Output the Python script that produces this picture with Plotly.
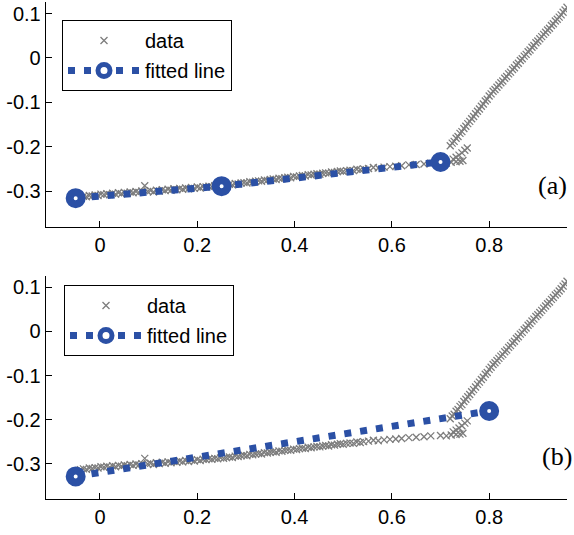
import plotly.graph_objects as go

# ---- data ----
flat_x = [-0.040, -0.034, -0.028, -0.022, -0.016, -0.010, -0.004, 0.002, 0.008, 0.014,
          0.020, 0.026, 0.032, 0.038, 0.044, 0.050, 0.056, 0.062, 0.068, 0.074,
          0.080, 0.086, 0.092, 0.098, 0.104, 0.110, 0.116, 0.122, 0.128, 0.134,
          0.140, 0.146, 0.152, 0.158, 0.164, 0.170, 0.176, 0.182, 0.188, 0.194,
          0.200, 0.206, 0.212, 0.218, 0.224, 0.230, 0.236, 0.242, 0.248, 0.254,
          0.260, 0.266, 0.272, 0.278, 0.284, 0.290, 0.296, 0.302, 0.308, 0.314,
          0.320, 0.326, 0.332, 0.338, 0.344, 0.350, 0.356, 0.362, 0.368, 0.374,
          0.380, 0.386, 0.392, 0.398, 0.404, 0.410, 0.416, 0.422, 0.428, 0.434,
          0.440, 0.446, 0.452, 0.458, 0.464, 0.470, 0.476, 0.482, 0.488, 0.494,
          0.500, 0.507, 0.514, 0.521, 0.528, 0.535, 0.542, 0.552, 0.562, 0.572,
          0.584, 0.596, 0.608, 0.620, 0.635, 0.650, 0.666, 0.680, 0.700, 0.712,
          0.722, 0.732, 0.740, 0.746]
flat_y = [-0.314, -0.312, -0.313, -0.310, -0.311, -0.309, -0.310, -0.307, -0.308, -0.306,
          -0.308, -0.305, -0.307, -0.304, -0.306, -0.303, -0.305, -0.302, -0.304, -0.301,
          -0.303, -0.300, -0.288, -0.301, -0.299, -0.302, -0.298, -0.300, -0.297, -0.299,
          -0.296, -0.298, -0.295, -0.297, -0.294, -0.296, -0.293, -0.295, -0.292, -0.294,
          -0.291, -0.293, -0.290, -0.291, -0.289, -0.290, -0.288, -0.289, -0.287, -0.288,
          -0.286, -0.285, -0.286, -0.283, -0.284, -0.282, -0.281, -0.282, -0.279, -0.280,
          -0.278, -0.277, -0.278, -0.275, -0.276, -0.274, -0.273, -0.274, -0.271, -0.272,
          -0.270, -0.269, -0.270, -0.267, -0.268, -0.266, -0.265, -0.266, -0.263, -0.264,
          -0.262, -0.261, -0.262, -0.260, -0.259, -0.260, -0.257, -0.258, -0.256, -0.255,
          -0.256, -0.254, -0.253, -0.254, -0.251, -0.252, -0.250, -0.249, -0.247, -0.248,
          -0.246, -0.245, -0.244, -0.243, -0.241, -0.240, -0.239, -0.237, -0.236, -0.237,
          -0.235, -0.234, -0.233, -0.231]
branch_x = [0.726, 0.732, 0.738, 0.744, 0.750, 0.755]
branch_y = [-0.228, -0.224, -0.219, -0.214, -0.208, -0.203]
steep_x = [0.720, 0.724, 0.728, 0.732, 0.736, 0.740, 0.744, 0.748, 0.752, 0.756,
           0.760, 0.764, 0.768, 0.772, 0.776, 0.780, 0.784, 0.788, 0.792, 0.796,
           0.800, 0.804, 0.808, 0.812, 0.816, 0.820, 0.824, 0.828, 0.832, 0.836,
           0.840, 0.844, 0.848, 0.852, 0.856, 0.860, 0.864, 0.868, 0.872, 0.876,
           0.880, 0.884, 0.888, 0.892, 0.896, 0.900, 0.904, 0.908, 0.912, 0.916,
           0.920, 0.924, 0.928, 0.932, 0.936, 0.940, 0.944, 0.948, 0.952, 0.956, 0.960]
steep_y = [-0.198, -0.192, -0.188, -0.181, -0.177, -0.170, -0.166, -0.159, -0.154, -0.148,
           -0.143, -0.137, -0.132, -0.126, -0.120, -0.115, -0.109, -0.104, -0.097, -0.093,
           -0.086, -0.081, -0.075, -0.071, -0.066, -0.061, -0.056, -0.052, -0.046, -0.042,
           -0.036, -0.032, -0.026, -0.022, -0.016, -0.012, -0.006, -0.002, 0.004, 0.008,
           0.014, 0.018, 0.024, 0.028, 0.034, 0.038, 0.043, 0.048, 0.053, 0.058,
           0.063, 0.067, 0.073, 0.077, 0.083, 0.087, 0.092, 0.097, 0.103, 0.108, 0.114]

data_x = flat_x + branch_x + steep_x
data_y = flat_y + branch_y + steep_y

fit_a_x = [-0.05, 0.25, 0.70]
fit_a_y = [-0.316, -0.289, -0.2345]
fit_b_x = [-0.05, 0.80]
fit_b_y = [-0.329, -0.1805]

x_ticks = [0, 0.2, 0.4, 0.6, 0.8]
x_tick_text = ["0", "0.2", "0.4", "0.6", "0.8"]
y_ticks = [-0.3, -0.2, -0.1, 0, 0.1]
y_tick_text = ["-0.3", "-0.2", "-0.1", "0", "0.1"]
panel_labels = ["(a)", "(b)"]

GRAY = "rgb(125,125,125)"
BLUE = "#2b50a5"
FONT = "Liberation Sans, Arial, sans-serif"

fig = go.Figure()

def add_panel(xa, ya, leg, fx, fy):
    fig.add_trace(go.Scatter(
        x=data_x, y=data_y, mode="markers", name="data",
        xaxis=xa, yaxis=ya, legend=leg, legendgroup=leg + "d",
        marker=dict(symbol="x-thin", size=7, color=GRAY,
                    line=dict(width=1.3, color=GRAY))))
    fig.add_trace(go.Scatter(
        x=fx, y=fy, mode="lines+markers", name="fitted line",
        xaxis=xa, yaxis=ya, legend=leg, legendgroup=leg + "f",
        line=dict(color=BLUE, width=7, dash="7px,9px"),
        marker=dict(symbol="circle", size=12, color="white",
                    line=dict(width=8, color=BLUE))))

add_panel("x", "y", "legend", fit_a_x, fit_a_y)
add_panel("x2", "y2", "legend2", fit_b_x, fit_b_y)

xr = [-0.1116, 0.96]
yr = [-0.381, 0.126]
axis_common = dict(showline=True, linecolor="black", linewidth=1, mirror=False,
                   ticks="inside", ticklen=6, tickcolor="black", tickwidth=1,
                   showgrid=False, zeroline=False,
                   tickfont=dict(family=FONT, size=20, color="black"))

xdom = [45.7 / 574, 567 / 574]
leg_font = dict(family=FONT, size=20, color="black")
fig.update_layout(
    width=574, height=535,
    margin=dict(l=0, r=0, t=0, b=0),
    paper_bgcolor="white", plot_bgcolor="white",
    xaxis=dict(domain=xdom, range=xr, tickvals=x_ticks, ticktext=x_tick_text,
               anchor="y", **axis_common),
    yaxis=dict(domain=[(535 - 227) / 535, (535 - 2) / 535], range=yr,
               tickvals=y_ticks, ticktext=y_tick_text, anchor="x", **axis_common),
    xaxis2=dict(domain=xdom, range=xr, tickvals=x_ticks, ticktext=x_tick_text,
                anchor="y2", **axis_common),
    yaxis2=dict(domain=[(535 - 499.3) / 535, (535 - 276) / 535], range=yr,
                tickvals=y_ticks, ticktext=y_tick_text, anchor="x2", **axis_common),
    legend=dict(x=62 / 574, y=(535 - 20) / 535, xanchor="left", yanchor="top",
                bordercolor="black", borderwidth=1, bgcolor="white",
                font=leg_font, itemwidth=72, tracegroupgap=1),
    legend2=dict(x=64 / 574, y=(535 - 285) / 535, xanchor="left", yanchor="top",
                 bordercolor="black", borderwidth=1, bgcolor="white",
                 font=leg_font, itemwidth=72, tracegroupgap=1),
    showlegend=True,
)

serif = dict(family="Liberation Serif, Times New Roman, serif", size=26, color="black")
fig.add_annotation(x=569 / 574, y=(535 - 185) / 535, xref="paper", yref="paper",
                   text=panel_labels[0], showarrow=False, xanchor="right", yanchor="middle",
                   font=serif)
fig.add_annotation(x=574 / 574, y=(535 - 456.7) / 535, xref="paper", yref="paper",
                   text=panel_labels[1], showarrow=False, xanchor="right", yanchor="middle",
                   font=serif)

fig.write_html("out.html")
